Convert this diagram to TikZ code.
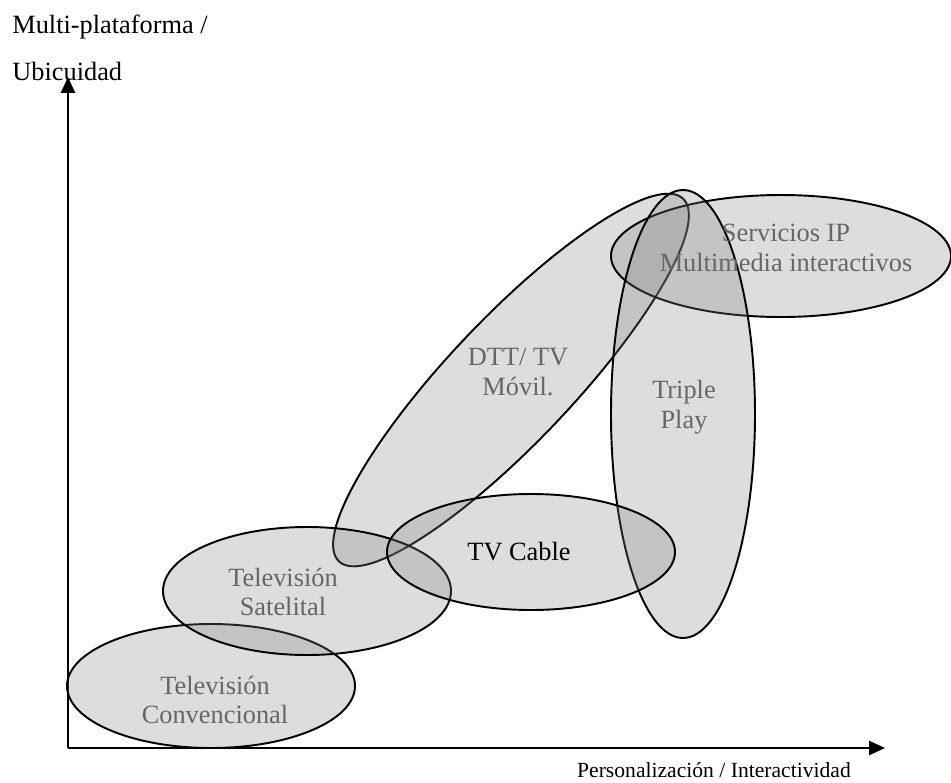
\documentclass[tikz,border=0pt]{standalone}
\usepackage{fontspec}
\setmainfont{Liberation Serif}
\usetikzlibrary{arrows.meta}
\begin{document}
\begin{tikzpicture}[x=.02cm,y=-.02cm,>={Triangle[length=9pt,width=8pt]},
  region/.style={draw=black,line width=1.1pt,fill=gray,fill opacity=.27},
  rlabel/.style={text=black!60,align=center,font=\fontsize{15}{17}\selectfont}]
  \useasboundingbox (0,0) rectangle (951,782);
  % axes
  \coordinate (orig) at (68,748);
  \coordinate (ytip) at (68,77);
  \coordinate (xtip) at (885,748);
  \draw[->,line width=1.2pt] (orig)--(ytip);
  \draw[->,line width=1.2pt] (orig)--(xtip);
  \node[anchor=base west,font=\fontsize{15}{17}\selectfont,inner sep=0pt] (ylaba) at (12,33) {Multi-plataforma /};
  \node[anchor=base west,font=\fontsize{15}{17}\selectfont,inner sep=0pt] (ylabb) at (12,80) {Ubicuidad};
  \node[anchor=base,font=\fontsize{12.3}{14}\selectfont,inner sep=0pt] (xlab) at (714,777) {Personalización / Interactividad};
  % regions
  \draw[region] (511,380) ellipse [x radius=250,y radius=62,rotate=46.5];
  \draw[region] (211,686) ellipse [x radius=144,y radius=62];
  \draw[region] (307,591) ellipse [x radius=144,y radius=64];
  \draw[region] (781,256) ellipse [x radius=170,y radius=61];
  \draw[region] (683,414) ellipse [x radius=72,y radius=224];
  \draw[region] (531,552) ellipse [x radius=144,y radius=58];
  % labels
  \node[rlabel] (dtt) at (518,372) {DTT/ TV\\Móvil.};
  \node[rlabel] (conv) at (215,700) {Televisión\\Convencional};
  \node[rlabel] (sat) at (283,592) {Televisión\\Satelital};
  \node[rlabel] (ip) at (786,248) {Servicios IP\\Multimedia interactivos};
  \node[rlabel] (triple) at (684,407) {Triple\\Play};
  \node[rlabel,text=black] (cable) at (519,552) {TV Cable};
\end{tikzpicture}
\end{document}
